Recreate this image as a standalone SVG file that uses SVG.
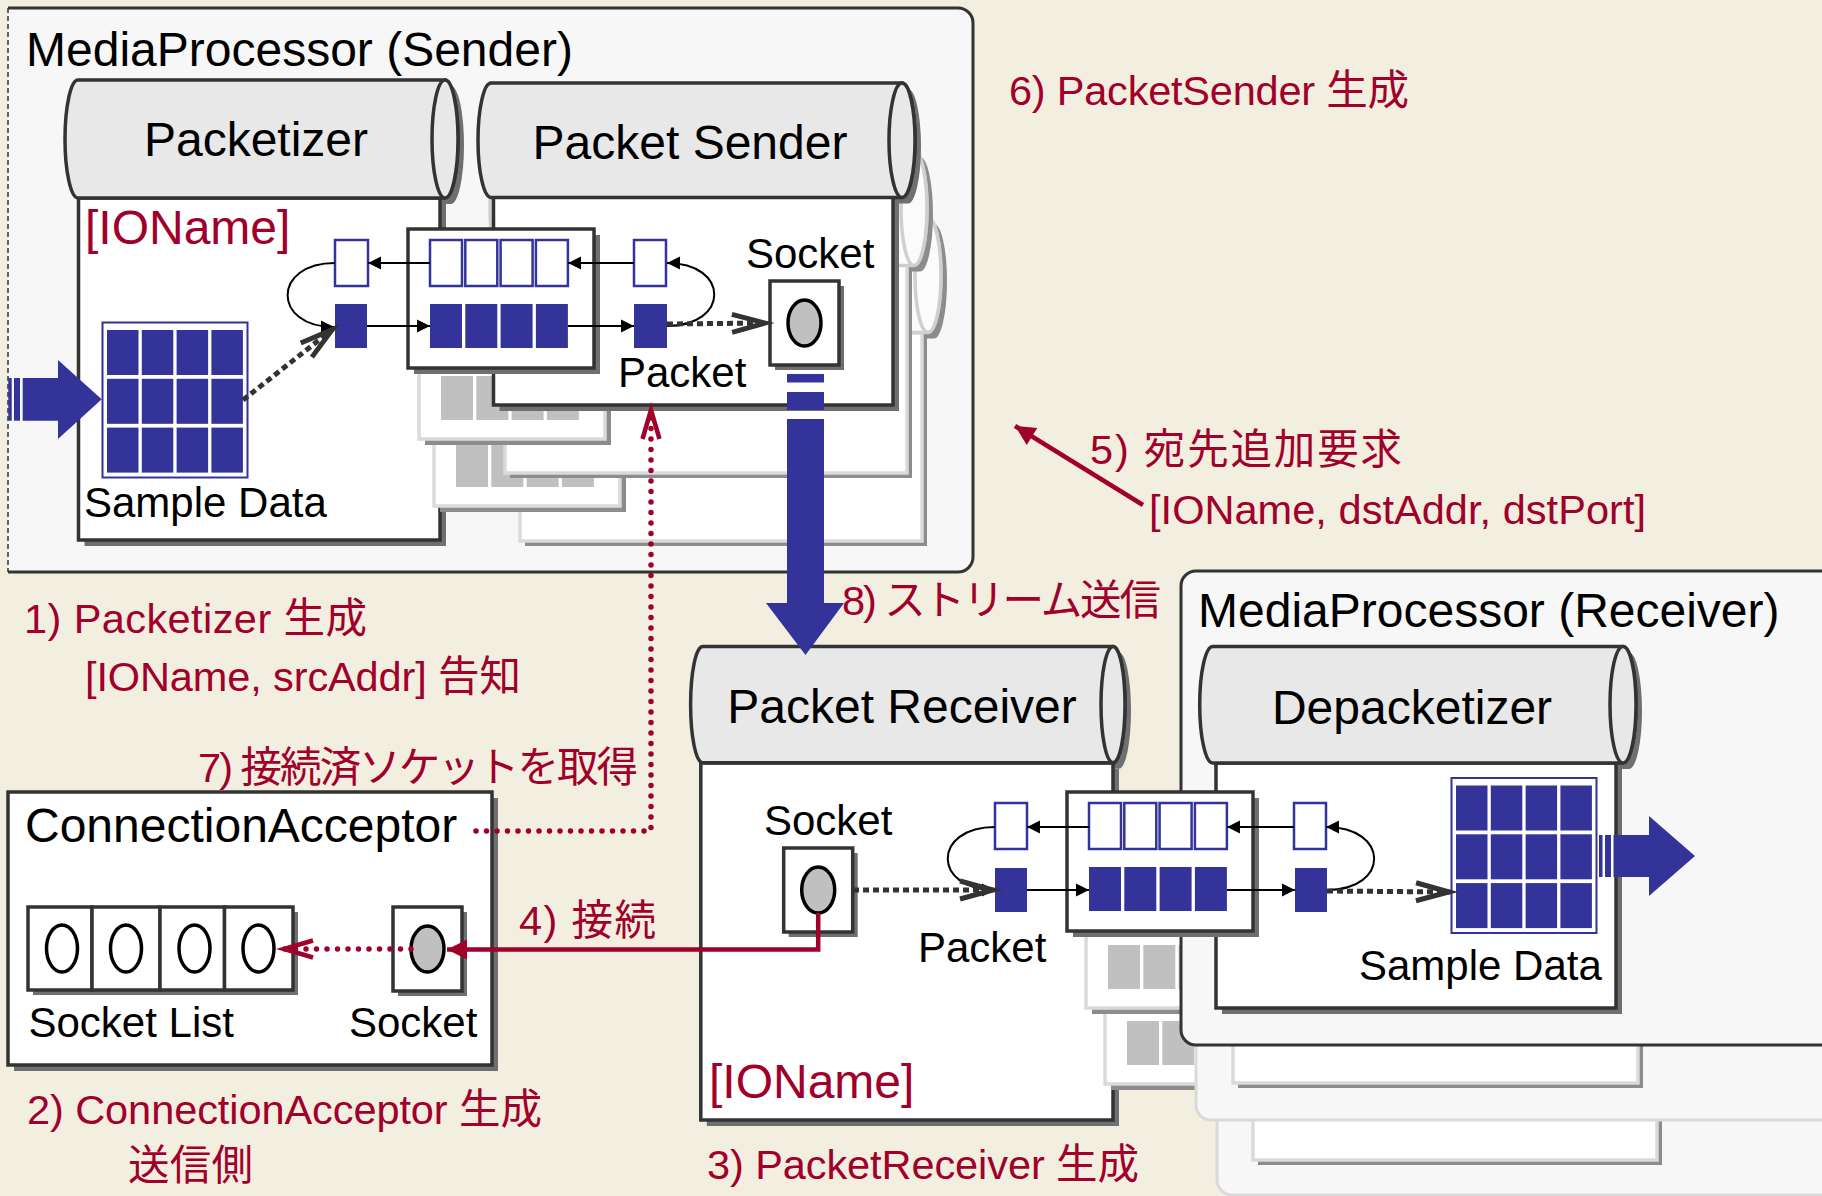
<svg xmlns="http://www.w3.org/2000/svg" xmlns:xlink="http://www.w3.org/1999/xlink" width="1822" height="1196" viewBox="0 0 1822 1196">
<style>
text{font-family:"Liberation Sans",Arial,"Noto Sans CJK JP",sans-serif}
.t47{font-size:48px;fill:#000}
.t42{font-size:42px;fill:#000}
.red{font-size:41.5px;fill:#a0002a}
.rb{font-size:48px;fill:#a0002a}
.mp{fill:#f7f7f7;stroke:#333;stroke-width:3}
.mpc{fill:#f7f7f7;stroke:#dadada;stroke-width:3}
.bx{fill:#fff;stroke:#333;stroke-width:3.5}
.sh{fill:#6f6f6f}
.cp{fill:#fff;stroke:#dadada;stroke-width:3.5}
.csh{fill:#8c8c8c}
.cyl{fill:#e8e8e8;stroke:#333;stroke-width:3.5}
.cylc{fill:#fbfbfb;stroke:#cfcfcf;stroke-width:3.5}
.bc{fill:#333399}
.wc{fill:#fff;stroke:#333399;stroke-width:2.5}
.gc{fill:#c0c0c0}
.sk{fill:#c0c0c0;stroke:#000;stroke-width:3.5}
.sw{fill:#fff;stroke:#000;stroke-width:3.5}
.ar{fill:none;stroke:#000;stroke-width:2}
.dg{fill:none;stroke:#333;stroke-width:5;stroke-dasharray:6 4}
.rd{fill:none;stroke:#a0002a;stroke-width:5.5;stroke-dasharray:0 10.5;stroke-linecap:round}
.rs{fill:none;stroke:#a0002a;stroke-width:4.5}
.blue{fill:#333399}
</style>
<defs>
 <marker id="mb" markerUnits="userSpaceOnUse" markerWidth="14" markerHeight="14" refX="0" refY="0" orient="auto" overflow="visible">
  <path d="M-13,-6.5 L0,0 L-13,6.5 Z" fill="#000"/>
 </marker>
 <marker id="mg" markerUnits="userSpaceOnUse" markerWidth="40" markerHeight="24" refX="0" refY="0" orient="auto" overflow="visible">
  <path d="M-34,-9 L-1,0 L-34,9" fill="none" stroke="#333" stroke-width="5"/>
 </marker>
 <marker id="mr" markerUnits="userSpaceOnUse" markerWidth="34" markerHeight="20" refX="0" refY="0" orient="auto" overflow="visible">
  <path d="M-30,-8.5 L-1,0 L-30,8.5" fill="none" stroke="#a0002a" stroke-width="4.5"/>
 </marker>
 <marker id="mrf" markerUnits="userSpaceOnUse" markerWidth="24" markerHeight="24" refX="0" refY="0" orient="auto" overflow="visible">
  <path d="M-20,-10 L0,0 L-20,10 Z" fill="#a0002a"/>
 </marker>
 <g id="queue">
  <rect class="sh" x="6" y="6" width="186" height="139"/>
  <rect class="bx" x="0" y="0" width="186" height="139"/>
  <rect class="wc" x="22" y="11" width="32" height="46"/>
  <rect class="wc" x="57.3" y="11" width="32" height="46"/>
  <rect class="wc" x="92.6" y="11" width="32" height="46"/>
  <rect class="wc" x="127.9" y="11" width="32" height="46"/>
  <rect class="bc" x="22" y="75" width="32" height="44"/>
  <rect class="bc" x="57.3" y="75" width="32" height="44"/>
  <rect class="bc" x="92.6" y="75" width="32" height="44"/>
  <rect class="bc" x="127.9" y="75" width="32" height="44"/>
 </g>
 <g id="queuec">
  <rect class="csh" x="6" y="6" width="186" height="139"/>
  <rect class="cp" x="0" y="0" width="186" height="139"/>
  <rect class="gc" x="22" y="11" width="32" height="46"/>
  <rect class="gc" x="57.3" y="11" width="32" height="46"/>
  <rect class="gc" x="92.6" y="11" width="32" height="46"/>
  <rect class="gc" x="127.9" y="11" width="32" height="46"/>
  <rect class="gc" x="22" y="76" width="32" height="44"/>
  <rect class="gc" x="57.3" y="76" width="32" height="44"/>
  <rect class="gc" x="92.6" y="76" width="32" height="44"/>
  <rect class="gc" x="127.9" y="76" width="32" height="44"/>
 </g>
 <g id="grid">
  <rect x="0" y="0" width="145" height="155" fill="#fff" stroke="#333399" stroke-width="2"/>
  <rect class="bc" x="4.5" y="7.5" width="31.5" height="45"/>
  <rect class="bc" x="39.3" y="7.5" width="31.5" height="45"/>
  <rect class="bc" x="74.1" y="7.5" width="31.5" height="45"/>
  <rect class="bc" x="108.9" y="7.5" width="31.5" height="45"/>
  <rect class="bc" x="4.5" y="56.3" width="31.5" height="45"/>
  <rect class="bc" x="39.3" y="56.3" width="31.5" height="45"/>
  <rect class="bc" x="74.1" y="56.3" width="31.5" height="45"/>
  <rect class="bc" x="108.9" y="56.3" width="31.5" height="45"/>
  <rect class="bc" x="4.5" y="105.1" width="31.5" height="45"/>
  <rect class="bc" x="39.3" y="105.1" width="31.5" height="45"/>
  <rect class="bc" x="74.1" y="105.1" width="31.5" height="45"/>
  <rect class="bc" x="108.9" y="105.1" width="31.5" height="45"/>
 </g>
 <g id="sock">
  <rect class="sh" x="5" y="5" width="69" height="84"/>
  <rect class="bx" x="0" y="0" width="69" height="84"/>
  <ellipse class="sk" cx="34.5" cy="42" rx="16.5" ry="23"/>
 </g>
 <path id="cyl-ps" d="M491,83 H902 A13,57.25 0 0 1 902,197.5 H491 A13,57.25 0 0 1 491,83 Z"/>
 <ellipse id="cyl-ps-end" cx="902" cy="140.25" rx="13" ry="57.25"/>
</defs>

<rect x="0" y="0" width="1822" height="1196" fill="#f2eee0"/>

<!-- Sender MediaProcessor -->
<g id="mp-sender">
 <path class="mp" d="M8,8 H958 A15,15 0 0 1 973,23 V557 A15,15 0 0 1 958,572 H8"/>
 <line x1="8" y1="8" x2="8" y2="572" stroke="#333" stroke-width="1.5" stroke-dasharray="5 3"/>
 <text class="t47" x="26" y="66">MediaProcessor (Sender)</text>
</g>

<!-- Packetizer -->
<g id="packetizer">
 <path class="sh" transform="translate(6,6)" d="M78,80 H445 A13,59 0 0 1 445,198 H78 A13,59 0 0 1 78,80 Z"/>
 <rect class="sh" x="84.5" y="204" width="361.5" height="342"/>
 <rect class="bx" x="78.5" y="198" width="361.5" height="342"/>
 <path class="cyl" d="M78,80 H445 A13,59 0 0 1 445,198 H78 A13,59 0 0 1 78,80 Z"/>
 <ellipse class="cyl" cx="445" cy="139" rx="13" ry="59"/>
 <text class="t47" x="256" y="156" text-anchor="middle">Packetizer</text>
 <text class="rb" x="85" y="244">[IOName]</text>
 <use xlink:href="#grid" x="102.5" y="322.5"/>
 <text class="t42" x="84" y="517">Sample Data</text>
 <rect class="wc" x="335" y="240" width="33" height="46"/>
 <rect class="bc" x="335" y="304" width="32" height="44"/>
</g>

<!-- Packet Sender copies -->
<g id="packet-sender-copy2">
 <use xlink:href="#cyl-ps" class="csh" transform="translate(32,141)"/>
 <rect class="csh" x="525" y="338" width="402" height="208"/>
 <rect class="cp" x="520" y="333" width="402" height="208"/>
 <use xlink:href="#cyl-ps" class="cylc" transform="translate(26,135)"/>
 <use xlink:href="#cyl-ps-end" class="cylc" transform="translate(26,135)"/>
 <use xlink:href="#queuec" x="434" y="367"/>
</g>
<g id="packet-sender-copy1">
 <use xlink:href="#cyl-ps" class="csh" transform="translate(18,74)"/>
 <rect class="csh" x="510" y="270" width="402" height="208"/>
 <rect class="cp" x="505" y="265" width="402" height="208"/>
 <use xlink:href="#cyl-ps" class="cylc" transform="translate(12,68)"/>
 <use xlink:href="#cyl-ps-end" class="cylc" transform="translate(12,68)"/>
 <use xlink:href="#queuec" x="419" y="300"/>
</g>

<!-- Packet Sender -->
<g id="packet-sender">
 <use xlink:href="#cyl-ps" class="sh" transform="translate(6,6)"/>
 <rect class="sh" x="499.5" y="203" width="399.5" height="208"/>
 <rect class="bx" x="493.5" y="197" width="399.5" height="208"/>
 <use xlink:href="#cyl-ps" class="cyl"/>
 <use xlink:href="#cyl-ps-end" class="cyl"/>
 <text class="t47" x="690" y="159" text-anchor="middle">Packet Sender</text>
 <text class="t42" x="746" y="268">Socket</text>
 <use xlink:href="#sock" x="770" y="281"/>
 <text class="t42" x="618" y="387">Packet</text>
 <rect class="wc" x="634" y="240" width="32" height="46"/>
 <rect class="bc" x="634" y="304" width="33" height="44"/>
 <use xlink:href="#queue" x="408" y="229"/>
</g>

<!-- ConnectionAcceptor -->
<g id="connection-acceptor">
 <rect class="sh" x="14" y="798" width="484" height="273"/>
 <rect class="bx" x="8" y="792" width="484" height="273"/>
 <text class="t47" x="25" y="842">ConnectionAcceptor</text>
 <rect class="sh" x="33" y="912" width="265" height="83"/>
 <rect class="bx" x="28" y="907" width="64" height="83"/>
 <rect class="bx" x="92" y="907" width="68" height="83"/>
 <rect class="bx" x="160" y="907" width="64.5" height="83"/>
 <rect class="bx" x="224.5" y="907" width="68.5" height="83"/>
 <ellipse class="sw" cx="62" cy="948.5" rx="15.5" ry="23.5"/>
 <ellipse class="sw" cx="126" cy="948.5" rx="15.5" ry="23.5"/>
 <ellipse class="sw" cx="194.5" cy="948.5" rx="15.5" ry="23.5"/>
 <ellipse class="sw" cx="258.5" cy="948.5" rx="15.5" ry="23.5"/>
 <use xlink:href="#sock" x="393" y="907"/>
 <text class="t42" x="28.5" y="1037">Socket List</text>
 <text class="t42" x="349" y="1037">Socket</text>
</g>

<!-- Packet Receiver -->
<g id="packet-receiver">
 <path class="sh" transform="translate(6,6)" d="M702.6,646.4 H1113 A12,58.2 0 0 1 1113,762.8 H702.6 A12,58.2 0 0 1 702.6,646.4 Z"/>
 <rect class="sh" x="706.8" y="769" width="412.2" height="357"/>
 <rect class="bx" x="700.8" y="763" width="412.2" height="357"/>
 <path class="cyl" d="M702.6,646.4 H1113 A12,58.2 0 0 1 1113,762.8 H702.6 A12,58.2 0 0 1 702.6,646.4 Z"/>
 <ellipse class="cyl" cx="1113" cy="704.6" rx="12" ry="58.2"/>
 <text class="t47" x="902" y="723" text-anchor="middle">Packet Receiver</text>
 <text class="t42" x="764" y="835">Socket</text>
 <use xlink:href="#sock" x="783.7" y="848"/>
 <text class="t42" x="918" y="961.6">Packet</text>
 <text class="rb" x="709" y="1097.5">[IOName]</text>
 <rect class="wc" x="995" y="803" width="32" height="46"/>
 <rect class="bc" x="995" y="868" width="32" height="44"/>
</g>

<!-- Receiver MediaProcessor copies -->
<g id="mp-receiver-copy2">
 <rect class="mpc" x="1217" y="725" width="700" height="470" rx="15"/>
 <rect class="csh" x="1258" y="922" width="404" height="243"/>
 <rect class="cp" x="1253" y="917" width="404" height="243"/>
 <use xlink:href="#queuec" x="1105" y="945"/>
</g>
<g id="mp-receiver-copy1">
 <rect class="mpc" x="1196" y="650" width="700" height="470" rx="15"/>
 <rect class="csh" x="1238" y="845" width="405" height="243"/>
 <rect class="cp" x="1233" y="840" width="405" height="243"/>
 <use xlink:href="#queuec" x="1086" y="869"/>
</g>

<!-- Receiver MediaProcessor -->
<g id="mp-receiver">
 <rect class="mp" x="1181" y="571" width="700" height="474" rx="15"/>
 <text class="t47" x="1198" y="627">MediaProcessor (Receiver)</text>
</g>

<!-- Depacketizer -->
<g id="depacketizer">
 <path class="sh" transform="translate(6,6)" d="M1212.7,646.4 H1623 A13,58.3 0 0 1 1623,763 H1212.7 A13,58.3 0 0 1 1212.7,646.4 Z"/>
 <rect class="sh" x="1222" y="769" width="400" height="245"/>
 <rect class="bx" x="1216" y="763" width="400" height="245"/>
 <path class="cyl" d="M1212.7,646.4 H1623 A13,58.3 0 0 1 1623,763 H1212.7 A13,58.3 0 0 1 1212.7,646.4 Z"/>
 <ellipse class="cyl" cx="1623" cy="704.7" rx="13" ry="58.3"/>
 <text class="t47" x="1412" y="724" text-anchor="middle">Depacketizer</text>
 <use xlink:href="#grid" x="1451.5" y="778"/>
 <text class="t42" x="1359" y="980">Sample Data</text>
 <rect class="wc" x="1294" y="803" width="32" height="46"/>
 <rect class="bc" x="1295" y="868" width="32" height="44"/>
 <use xlink:href="#queue" x="1067" y="792"/>
</g>

<!-- Connectors -->
<g id="connectors">
 <path class="ar" d="M430,263 H368" marker-end="url(#mb)"/>
 <path class="ar" d="M367,326 H430" marker-end="url(#mb)"/>
 <path class="ar" d="M634,263 H568" marker-end="url(#mb)"/>
 <path class="ar" d="M568,326 H634" marker-end="url(#mb)"/>
 <path class="ar" d="M335,263 C272,263 272,327 334,327" marker-end="url(#mb)"/>
 <path class="ar" d="M667,326 C730,326 730,263 667,263" marker-end="url(#mb)"/>
 <path class="dg" d="M243,400 L333,329" marker-end="url(#mg)"/>
 <path class="dg" d="M667,324 L766,323" marker-end="url(#mg)"/>
 <path class="ar" d="M1089,827 H1027" marker-end="url(#mb)"/>
 <path class="ar" d="M1027,890 H1089" marker-end="url(#mb)"/>
 <path class="ar" d="M1294,827 H1227" marker-end="url(#mb)"/>
 <path class="ar" d="M1227,890 H1295" marker-end="url(#mb)"/>
 <path class="ar" d="M995,827 C932,827 932,890 995,890" marker-end="url(#mb)"/>
 <path class="ar" d="M1327,890 C1390,890 1390,827 1326,827" marker-end="url(#mb)"/>
 <path class="dg" d="M853,890 L994,890" marker-end="url(#mg)"/>
 <path class="dg" d="M1327,891 L1450,892" marker-end="url(#mg)"/>
 <path class="rs" d="M818.2,913 V949.5 H447" marker-end="url(#mrf)"/>
 <path class="rd" d="M411,949 H283" marker-end="url(#mr)"/>
 <path class="rd" d="M476,831 H651 V409" marker-end="url(#mr)"/>
 <path class="rs" d="M1143,505 L1015,426" marker-end="url(#mrf)"/>
 <g class="blue">
  <rect x="8.3" y="378" width="3.4" height="42.7"/>
  <rect x="14" y="378" width="6" height="42.7"/>
  <polygon points="22.7,378 58,378 58,360 101.7,399.3 58,439 58,420.7 22.7,420.7"/>
  <rect x="787" y="374" width="37" height="8.5"/>
  <rect x="787" y="392" width="37" height="18"/>
  <polygon points="787,419 824,419 824,603 844,603 805.5,655 766,603 787,603"/>
  <rect x="1599" y="835" width="3.5" height="42"/>
  <rect x="1605" y="835" width="6" height="42"/>
  <polygon points="1613.5,835 1649,835 1649,816 1695,856 1649,896 1649,877 1613.5,877"/>
 </g>
</g>

<!-- Step labels -->
<g id="labels">
 <text class="red" x="1009" y="105" textLength="400">6) PacketSender 生成</text>
 <text class="red" x="1090" y="464" textLength="312">5) 宛先追加要求</text>
 <text class="red" x="1149" y="523.5" textLength="497">[IOName, dstAddr, dstPort]</text>
 <text class="red" x="24" y="633" textLength="343">1) Packetizer 生成</text>
 <text class="red" x="85" y="690.6" textLength="436">[IOName, srcAddr] 告知</text>
 <text class="red" x="198" y="782" textLength="440">7) 接続済ソケットを取得</text>
 <text class="red" x="519" y="935" textLength="137">4) 接続</text>
 <text class="red" x="27" y="1124" textLength="515">2) ConnectionAcceptor 生成</text>
 <text class="red" x="128" y="1180" textLength="125">送信側</text>
 <text class="red" x="842" y="615" textLength="319">8) ストリーム送信</text>
 <text class="red" x="707" y="1178.7" textLength="432">3) PacketReceiver 生成</text>
</g>
</svg>
